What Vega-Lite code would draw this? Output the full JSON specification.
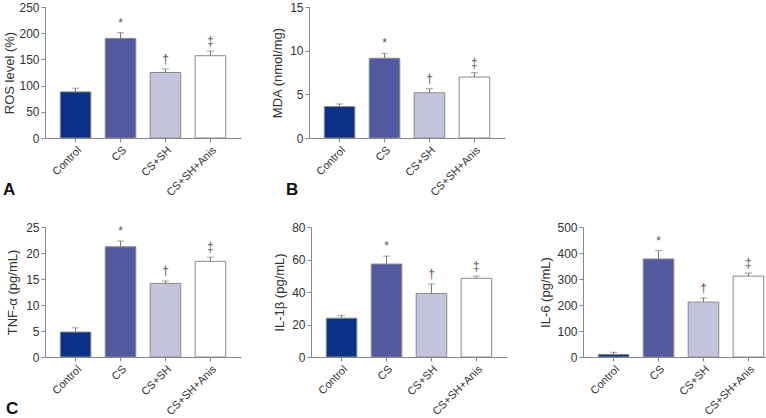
{
  "$schema": "https://vega.github.io/schema/vega-lite/v6.json",
  "padding": {"left": 2, "top": 1, "right": 0, "bottom": 0},
  "background": "white",
  "config": {
    "font": "Liberation Sans",
    "view": {"stroke": null},
    "axis": {"grid": false, "domainColor": "#888", "tickColor": "#888", "labelColor": "#333", "titleColor": "#333", "labelFontSize": 12, "titleFontSize": 13, "titleFontWeight": "normal", "tickSize": 4},
    "axisY": {"titleBaseline": "bottom"},
    "axisX": {"labelAngle": -45, "title": null, "labelPadding": 2, "labelFontSize": 11},
    "title": {"fontSize": 17, "fontWeight": "bold", "color": "#111", "orient": "bottom", "anchor": "start", "frame": "bounds", "offset": -16, "baseline": "top"}
  },
  "datasets": {
    "d": [
      {"panel": "ROS", "group": "Control", "mean": 88, "err": 95, "sig": ""},
      {"panel": "ROS", "group": "CS", "mean": 190, "err": 201, "sig": "*"},
      {"panel": "ROS", "group": "CS+SH", "mean": 125, "err": 132, "sig": "†"},
      {"panel": "ROS", "group": "CS+SH+Anis", "mean": 157, "err": 166, "sig": "‡"},
      {"panel": "MDA", "group": "Control", "mean": 3.6, "err": 3.9, "sig": ""},
      {"panel": "MDA", "group": "CS", "mean": 9.13, "err": 9.7, "sig": "*"},
      {"panel": "MDA", "group": "CS+SH", "mean": 5.18, "err": 5.64, "sig": "†"},
      {"panel": "MDA", "group": "CS+SH+Anis", "mean": 6.98, "err": 7.48, "sig": "‡"},
      {"panel": "TNF", "group": "Control", "mean": 4.8, "err": 5.6, "sig": ""},
      {"panel": "TNF", "group": "CS", "mean": 21.2, "err": 22.3, "sig": "*"},
      {"panel": "TNF", "group": "CS+SH", "mean": 14.15, "err": 14.6, "sig": "†"},
      {"panel": "TNF", "group": "CS+SH+Anis", "mean": 18.4, "err": 19.2, "sig": "‡"},
      {"panel": "IL1", "group": "Control", "mean": 23.9, "err": 25.6, "sig": ""},
      {"panel": "IL1", "group": "CS", "mean": 57.2, "err": 62.1, "sig": "*"},
      {"panel": "IL1", "group": "CS+SH", "mean": 39.1, "err": 44.9, "sig": "†"},
      {"panel": "IL1", "group": "CS+SH+Anis", "mean": 48.4, "err": 49.8, "sig": "‡"},
      {"panel": "IL6", "group": "Control", "mean": 10, "err": 18, "sig": ""},
      {"panel": "IL6", "group": "CS", "mean": 377, "err": 409, "sig": "*"},
      {"panel": "IL6", "group": "CS+SH", "mean": 211, "err": 227, "sig": "†"},
      {"panel": "IL6", "group": "CS+SH+Anis", "mean": 311, "err": 323, "sig": "‡"}
    ]
  },
  "spacing": 23,
  "vconcat": [
    {
      "spacing": 29,
      "hconcat": [
        {
          "width": 196, "height": 131,
          "title": {"text": "A"},
          "data": {"name": "d"},
          "transform": [{"filter": "datum.panel === 'ROS'"}],
          "encoding": {
            "x": {"field": "group", "type": "nominal", "sort": null, "scale": {"paddingInner": 0.32, "paddingOuter": 0.34}}
          },
          "layer": [
            {"mark": {"type": "bar", "stroke": "#8a8a8a", "strokeWidth": 1}, "encoding": {
              "y": {"field": "mean", "type": "quantitative", "title": "ROS level (%)", "scale": {"domain": [0, 250]}, "axis": {"values": [0, 50, 100, 150, 200, 250], "titleX": -29}},
              "fill": {"field": "group", "type": "nominal", "sort": null, "scale": {"domain": ["Control", "CS", "CS+SH", "CS+SH+Anis"], "range": ["#0b3286", "#53599f", "#c5c4df", "#ffffff"]}, "legend": null}
            }},
            {"mark": {"type": "rule", "color": "#777"}, "encoding": {"y": {"field": "mean", "type": "quantitative", "title": "ROS level (%)", "scale": {"domain": [0, 250]}, "axis": {"values": [0, 50, 100, 150, 200, 250], "titleX": -29}}, "y2": {"field": "err"}}},
            {"mark": {"type": "tick", "color": "#777", "size": 7, "thickness": 1}, "encoding": {"y": {"field": "err", "type": "quantitative", "title": "ROS level (%)", "scale": {"domain": [0, 250]}, "axis": {"values": [0, 50, 100, 150, 200, 250], "titleX": -29}}}},
            {"mark": {"type": "text", "baseline": "bottom", "dy": -3, "fontSize": 12, "color": "#555"}, "encoding": {"y": {"field": "err", "type": "quantitative", "title": "ROS level (%)", "scale": {"domain": [0, 250]}, "axis": {"values": [0, 50, 100, 150, 200, 250], "titleX": -29}}, "text": {"field": "sig"}}}
          ]
        },
        {
          "width": 196, "height": 131,
          "title": {"text": "B", "dx": 15},
          "data": {"name": "d"},
          "transform": [{"filter": "datum.panel === 'MDA'"}],
          "encoding": {
            "x": {"field": "group", "type": "nominal", "sort": null, "scale": {"paddingInner": 0.32, "paddingOuter": 0.34}}
          },
          "layer": [
            {"mark": {"type": "bar", "stroke": "#8a8a8a", "strokeWidth": 1}, "encoding": {
              "y": {"field": "mean", "type": "quantitative", "title": "MDA (nmol/mg)", "scale": {"domain": [0, 15]}, "axis": {"values": [0, 5, 10, 15], "titleX": -25}},
              "fill": {"field": "group", "type": "nominal", "sort": null, "scale": {"domain": ["Control", "CS", "CS+SH", "CS+SH+Anis"], "range": ["#0b3286", "#53599f", "#c5c4df", "#ffffff"]}, "legend": null}
            }},
            {"mark": {"type": "rule", "color": "#777"}, "encoding": {"y": {"field": "mean", "type": "quantitative", "title": "MDA (nmol/mg)", "scale": {"domain": [0, 15]}, "axis": {"values": [0, 5, 10, 15], "titleX": -25}}, "y2": {"field": "err"}}},
            {"mark": {"type": "tick", "color": "#777", "size": 7, "thickness": 1}, "encoding": {"y": {"field": "err", "type": "quantitative", "title": "MDA (nmol/mg)", "scale": {"domain": [0, 15]}, "axis": {"values": [0, 5, 10, 15], "titleX": -25}}}},
            {"mark": {"type": "text", "baseline": "bottom", "dy": -3, "fontSize": 12, "color": "#555"}, "encoding": {"y": {"field": "err", "type": "quantitative", "title": "MDA (nmol/mg)", "scale": {"domain": [0, 15]}, "axis": {"values": [0, 5, 10, 15], "titleX": -25}}, "text": {"field": "sig"}}}
          ]
        }
      ]
    },
    {
      "spacing": 31,
      "hconcat": [
        {
          "width": 196, "height": 130,
          "title": {"text": "C"},
          "data": {"name": "d"},
          "transform": [{"filter": "datum.panel === 'TNF'"}],
          "encoding": {
            "x": {"field": "group", "type": "nominal", "sort": null, "scale": {"paddingInner": 0.32, "paddingOuter": 0.34}}
          },
          "layer": [
            {"mark": {"type": "bar", "stroke": "#8a8a8a", "strokeWidth": 1}, "encoding": {
              "y": {"field": "mean", "type": "quantitative", "title": "TNF-α (pg/mL)", "scale": {"domain": [0, 25]}, "axis": {"values": [0, 5, 10, 15, 20, 25], "titleX": -26}},
              "fill": {"field": "group", "type": "nominal", "sort": null, "scale": {"domain": ["Control", "CS", "CS+SH", "CS+SH+Anis"], "range": ["#0b3286", "#53599f", "#c5c4df", "#ffffff"]}, "legend": null}
            }},
            {"mark": {"type": "rule", "color": "#777"}, "encoding": {"y": {"field": "mean", "type": "quantitative", "title": "TNF-α (pg/mL)", "scale": {"domain": [0, 25]}, "axis": {"values": [0, 5, 10, 15, 20, 25], "titleX": -26}}, "y2": {"field": "err"}}},
            {"mark": {"type": "tick", "color": "#777", "size": 7, "thickness": 1}, "encoding": {"y": {"field": "err", "type": "quantitative", "title": "TNF-α (pg/mL)", "scale": {"domain": [0, 25]}, "axis": {"values": [0, 5, 10, 15, 20, 25], "titleX": -26}}}},
            {"mark": {"type": "text", "baseline": "bottom", "dy": -3, "fontSize": 12, "color": "#555"}, "encoding": {"y": {"field": "err", "type": "quantitative", "title": "TNF-α (pg/mL)", "scale": {"domain": [0, 25]}, "axis": {"values": [0, 5, 10, 15, 20, 25], "titleX": -26}}, "text": {"field": "sig"}}}
          ]
        },
        {
          "width": 196, "height": 130,
          "data": {"name": "d"},
          "transform": [{"filter": "datum.panel === 'IL1'"}],
          "encoding": {
            "x": {"field": "group", "type": "nominal", "sort": null, "scale": {"paddingInner": 0.32, "paddingOuter": 0.34}}
          },
          "layer": [
            {"mark": {"type": "bar", "stroke": "#8a8a8a", "strokeWidth": 1}, "encoding": {
              "y": {"field": "mean", "type": "quantitative", "title": "IL-1β (pg/mL)", "scale": {"domain": [0, 80]}, "axis": {"values": [0, 20, 40, 60, 80], "titleX": -25}},
              "fill": {"field": "group", "type": "nominal", "sort": null, "scale": {"domain": ["Control", "CS", "CS+SH", "CS+SH+Anis"], "range": ["#0b3286", "#53599f", "#c5c4df", "#ffffff"]}, "legend": null}
            }},
            {"mark": {"type": "rule", "color": "#777"}, "encoding": {"y": {"field": "mean", "type": "quantitative", "title": "IL-1β (pg/mL)", "scale": {"domain": [0, 80]}, "axis": {"values": [0, 20, 40, 60, 80], "titleX": -25}}, "y2": {"field": "err"}}},
            {"mark": {"type": "tick", "color": "#777", "size": 7, "thickness": 1}, "encoding": {"y": {"field": "err", "type": "quantitative", "title": "IL-1β (pg/mL)", "scale": {"domain": [0, 80]}, "axis": {"values": [0, 20, 40, 60, 80], "titleX": -25}}}},
            {"mark": {"type": "text", "baseline": "bottom", "dy": -3, "fontSize": 12, "color": "#555"}, "encoding": {"y": {"field": "err", "type": "quantitative", "title": "IL-1β (pg/mL)", "scale": {"domain": [0, 80]}, "axis": {"values": [0, 20, 40, 60, 80], "titleX": -25}}, "text": {"field": "sig"}}}
          ]
        },
        {
          "width": 196, "height": 130,
          "data": {"name": "d"},
          "transform": [{"filter": "datum.panel === 'IL6'"}],
          "encoding": {
            "x": {"field": "group", "type": "nominal", "sort": null, "scale": {"paddingInner": 0.32, "paddingOuter": 0.34}}
          },
          "layer": [
            {"mark": {"type": "bar", "stroke": "#8a8a8a", "strokeWidth": 1}, "encoding": {
              "y": {"field": "mean", "type": "quantitative", "title": "IL-6 (pg/mL)", "scale": {"domain": [0, 500]}, "axis": {"values": [0, 100, 200, 300, 400, 500], "titleX": -31}},
              "fill": {"field": "group", "type": "nominal", "sort": null, "scale": {"domain": ["Control", "CS", "CS+SH", "CS+SH+Anis"], "range": ["#0b3286", "#53599f", "#c5c4df", "#ffffff"]}, "legend": null}
            }},
            {"mark": {"type": "rule", "color": "#777"}, "encoding": {"y": {"field": "mean", "type": "quantitative", "title": "IL-6 (pg/mL)", "scale": {"domain": [0, 500]}, "axis": {"values": [0, 100, 200, 300, 400, 500], "titleX": -31}}, "y2": {"field": "err"}}},
            {"mark": {"type": "tick", "color": "#777", "size": 7, "thickness": 1}, "encoding": {"y": {"field": "err", "type": "quantitative", "title": "IL-6 (pg/mL)", "scale": {"domain": [0, 500]}, "axis": {"values": [0, 100, 200, 300, 400, 500], "titleX": -31}}}},
            {"mark": {"type": "text", "baseline": "bottom", "dy": -3, "fontSize": 12, "color": "#555"}, "encoding": {"y": {"field": "err", "type": "quantitative", "title": "IL-6 (pg/mL)", "scale": {"domain": [0, 500]}, "axis": {"values": [0, 100, 200, 300, 400, 500], "titleX": -31}}, "text": {"field": "sig"}}}
          ]
        }
      ]
    }
  ]
}
